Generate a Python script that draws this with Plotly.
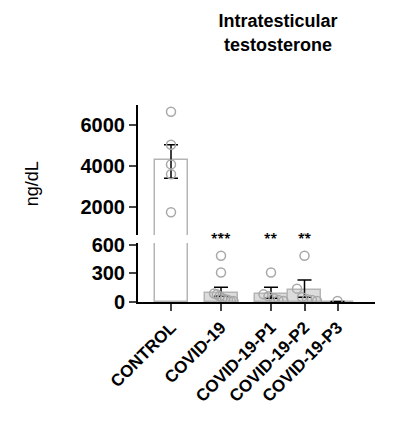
import plotly.graph_objects as go

groups = ["CONTROL", "COVID-19", "COVID-19-P1", "COVID-19-P2", "COVID-19-P3"]
xpos = [0, 1, 2, 2.67, 3.33]
means = [4290, 100, 90, 125, 5]
err_hi = [5060, 155, 155, 230, 5]
err_lo = [3420, 60, 40, 50, 5]
points = [
    [6670, 5060, 4100, 3620, 1760],
    [486, 310, 90, 80, 60, 40, 30, 20, 10, 10],
    [310, 80, 60, 40, 20, 10],
    [486, 140, 50, 30, 20, 10],
    [10],
]
stars = ["", "***", "**", "**", ""]

fills = ["white", "#dcdcdc", "#dcdcdc", "#dcdcdc", "#dcdcdc"]

fig = go.Figure()
for ax in ["y", "y2"]:
    fig.add_trace(go.Bar(
        x=xpos, y=means, width=0.66, yaxis=ax,
        marker=dict(color=fills, line=dict(color="#b5b5b5", width=1.5)),
        error_y=dict(type="data", symmetric=False,
                     array=[h - m for h, m in zip(err_hi, means)],
                     arrayminus=[m - l for m, l in zip(means, err_lo)],
                     color="black", thickness=1.5, width=7),
        showlegend=False,
    ))
    px, py = [], []
    for x, pts in zip(xpos, points):
        n = len(pts)
        for i, v in enumerate(pts):
            off = 0 if n == 1 else (i - (n - 1) / 2) * 0.5 / max(n - 1, 1) if v < 200 else 0
            px.append(x + off)
            py.append(v)
    fig.add_trace(go.Scatter(
        x=px, y=py, mode="markers", yaxis=ax, cliponaxis=True,
        marker=dict(symbol="circle-open", size=9, color="#a8a8a8", line=dict(width=1.5)),
        showlegend=False,
    ))

for x, s in zip(xpos, stars):
    if s:
        fig.add_annotation(x=x, y=560, yref="y", text="<b>" + s + "</b>", showarrow=False,
                           yanchor="bottom", font=dict(size=12, color="black"))

font = dict(family="Liberation Sans, Arial", size=20, color="black")
axis_style = dict(showline=True, linecolor="black", linewidth=2, ticks="outside", ticklen=7,
                  tickwidth=2, showgrid=False, zeroline=False, automargin=False)
fig.update_layout(
    width=403, height=426, plot_bgcolor="white", paper_bgcolor="white",
    margin=dict(l=130, r=36, t=97, b=132),
    bargap=0, barmode="overlay",
    title=dict(text="<b>Intratesticular<br>testosterone</b>", x=0.67, xanchor="center",
               y=0.955, yanchor="top", font=dict(family="Liberation Sans, Arial", size=18, color="black")),
    xaxis=dict(range=[-0.66, 4.08], tickvals=xpos, ticktext=["<b>%s</b>" % g for g in groups],
               tickangle=-45, tickfont=dict(family="Liberation Sans, Arial", size=17, color="black"),
               **axis_style),
    yaxis=dict(domain=[0, 0.3], range=[0, 620], tickvals=[0, 300, 600],
               ticktext=["<b>0</b>", "<b>300</b>", "<b>600</b>"], tickfont=font, **axis_style),
    yaxis2=dict(domain=[0.34, 1], range=[650, 7000], tickvals=[2000, 4000, 6000],
                ticktext=["<b>2000</b>", "<b>4000</b>", "<b>6000</b>"], tickfont=font,
                anchor="x", **axis_style),
)
fig.add_annotation(x=-0.5, y=0.6, xref="paper", yref="paper", text="ng/dL", textangle=-90,
                   showarrow=False, font=dict(family="Liberation Sans, Arial", size=18, color="black"))
fig.write_html("out.html")
